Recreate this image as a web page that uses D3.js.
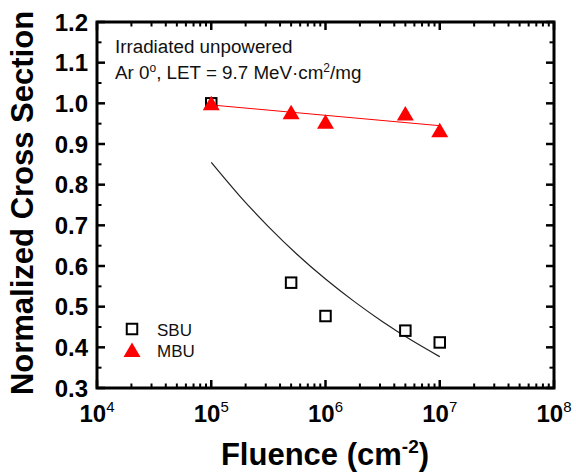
<!DOCTYPE html>
<html><head><meta charset="utf-8">
<script src="https://cdn.jsdelivr.net/npm/d3@7/dist/d3.min.js"></script>
<style>body{margin:0;background:#fff;}svg{display:block;font-family:"Liberation Sans",Arial,sans-serif;}</style>
</head><body>
<script>
// Data
const fluence = [1e5, 5e5, 1e6, 5e6, 1e7];
const sbu = [1.0, 0.559, 0.477, 0.441, 0.412];
const mbu = [1.0, 0.978, 0.955, 0.975, 0.934];
// linear fit of MBU (log x)
const mbuFitX = [1e5, 1e7];
const mbuFitY = [0.996, 0.945];
// SBU fit curve samples
const sbuFitX = [1e5, 1.778e5, 3.162e5, 5.623e5, 1e6, 1.778e6, 3.162e6, 5.623e6, 1e7];
const sbuFitY = [0.855, 0.772, 0.697, 0.629, 0.568, 0.513, 0.463, 0.418, 0.377];
const xTickExps = [4, 5, 6, 7, 8];
const yTicks = [0.3, 0.4, 0.5, 0.6, 0.7, 0.8, 0.9, 1.0, 1.1, 1.2];

const W = 576, H = 476;
const L = 97, R = 554, T = 22, B = 388;
const svg = d3.select("body").append("svg").attr("width", W).attr("height", H);

const x = d3.scaleLog().domain([1e4, 1e8]).range([L, R]);
const y = d3.scaleLinear().domain([0.3, 1.2]).range([B, T]);

// minor ticks
const xMinor = [];
for (let e = 4; e < 8; e++) for (let k = 2; k <= 9; k++) xMinor.push(k * Math.pow(10, e));
const xMajor = xTickExps.map(e => Math.pow(10, e));
const yMinor = d3.range(0.35, 1.2, 0.1);

const g = svg.append("g");
const tickColor = "#000";
function hTicks(vals, len, yPos, dir, w) {
  g.selectAll(null).data(vals).enter().append("line")
    .attr("x1", d => x(d)).attr("x2", d => x(d))
    .attr("y1", yPos).attr("y2", yPos + dir * len)
    .attr("stroke", tickColor).attr("stroke-width", w);
}
function vTicks(vals, len, xPos, dir, w) {
  g.selectAll(null).data(vals).enter().append("line")
    .attr("y1", d => y(d)).attr("y2", d => y(d))
    .attr("x1", xPos).attr("x2", xPos + dir * len)
    .attr("stroke", tickColor).attr("stroke-width", w);
}
hTicks(xMajor, 8, B, -1, 2.5); hTicks(xMinor, 4.5, B, -1, 2);
hTicks(xMajor, 8, T, 1, 2.5); hTicks(xMinor, 4.5, T, 1, 2);
vTicks(yTicks, 8, L, 1, 2.5); vTicks(yMinor, 4.5, L, 1, 2);
vTicks(yTicks, 8, R, -1, 2.5); vTicks(yMinor, 4.5, R, -1, 2);

g.append("rect").attr("x", L).attr("y", T).attr("width", R - L).attr("height", B - T)
  .attr("fill", "none").attr("stroke", "#000").attr("stroke-width", 3);

// Y tick labels
svg.selectAll(null).data(yTicks).enter().append("text")
  .attr("x", 88).attr("y", d => y(d)).attr("dy", "0.36em")
  .attr("text-anchor", "end").attr("font-weight", "bold").attr("font-size", 24)
  .text(d => d.toFixed(1));

// X tick labels
const xl = svg.selectAll(null).data(xTickExps).enter().append("text")
  .attr("x", d => x(Math.pow(10, d))).attr("y", 422)
  .attr("text-anchor", "middle").attr("font-weight", "bold").attr("font-size", 24);
xl.append("tspan").text("10");
xl.append("tspan").attr("font-size", 15).attr("font-weight", "normal").attr("dy", -10).text(d => d);

// Axis titles
svg.append("text").attr("transform", "translate(33," + 203 + ") rotate(-90)")
  .attr("text-anchor", "middle").attr("font-weight", "bold").attr("font-size", 31)
  .text("Normalized Cross Section");
const xt = svg.append("text").attr("x", 325).attr("y", 465).attr("text-anchor", "middle")
  .attr("font-weight", "bold").attr("font-size", 31);
xt.append("tspan").text("Fluence (cm");
xt.append("tspan").attr("font-size", 19).attr("dy", -12).text("-2");
xt.append("tspan").attr("dy", 12).text(")");

// annotation
svg.append("text").attr("x", 115).attr("y", 53).attr("font-size", 18.8).attr("fill", "#111")
  .text("Irradiated unpowered");
const a2 = svg.append("text").attr("x", 115).attr("y", 79).attr("font-size", 18.8).attr("fill", "#111");
a2.append("tspan").text("Ar 0");
a2.append("tspan").attr("font-size", 12).attr("dy", -7).text("o");
a2.append("tspan").attr("dy", 7).text(", LET = 9.7 MeV·cm");
a2.append("tspan").attr("font-size", 12).attr("dy", -7).text("2");
a2.append("tspan").attr("dy", 7).text("/mg");

// fits
const line = d3.line().x(d => x(d[0])).y(d => y(d[1]));
svg.append("path").datum(d3.zip(sbuFitX, sbuFitY)).attr("d", line.curve(d3.curveNatural))
  .attr("fill", "none").attr("stroke", "#222").attr("stroke-width", 1.2);
svg.append("path").datum(d3.zip(mbuFitX, mbuFitY)).attr("d", d3.line().x(d => x(d[0])).y(d => y(d[1])))
  .attr("fill", "none").attr("stroke", "#ff0000").attr("stroke-width", 1);

// SBU squares
const sq = 10.5;
svg.selectAll(null).data(d3.zip(fluence, sbu)).enter().append("rect")
  .attr("x", d => x(d[0]) - sq / 2).attr("y", d => y(d[1]) - sq / 2)
  .attr("width", sq).attr("height", sq)
  .attr("fill", "#fff").attr("stroke", "#000").attr("stroke-width", 2);

// MBU triangles
const tri = "M0,-7.5L8.5,7L-8.5,7Z";
svg.selectAll(null).data(d3.zip(fluence, mbu)).enter().append("path")
  .attr("d", tri).attr("transform", d => "translate(" + x(d[0]) + "," + y(d[1]) + ")")
  .attr("fill", "#ff0000");

// legend
svg.append("rect").attr("x", 132 - sq / 2).attr("y", 329 - sq / 2).attr("width", sq).attr("height", sq)
  .attr("fill", "#fff").attr("stroke", "#000").attr("stroke-width", 2);
svg.append("path").attr("d", tri).attr("transform", "translate(132,350)").attr("fill", "#ff0000");
svg.append("text").attr("x", 157).attr("y", 335.5).attr("font-size", 17).attr("fill", "#111").text("SBU");
svg.append("text").attr("x", 157).attr("y", 356.5).attr("font-size", 17).attr("fill", "#111").text("MBU");
</script>
</body></html>
